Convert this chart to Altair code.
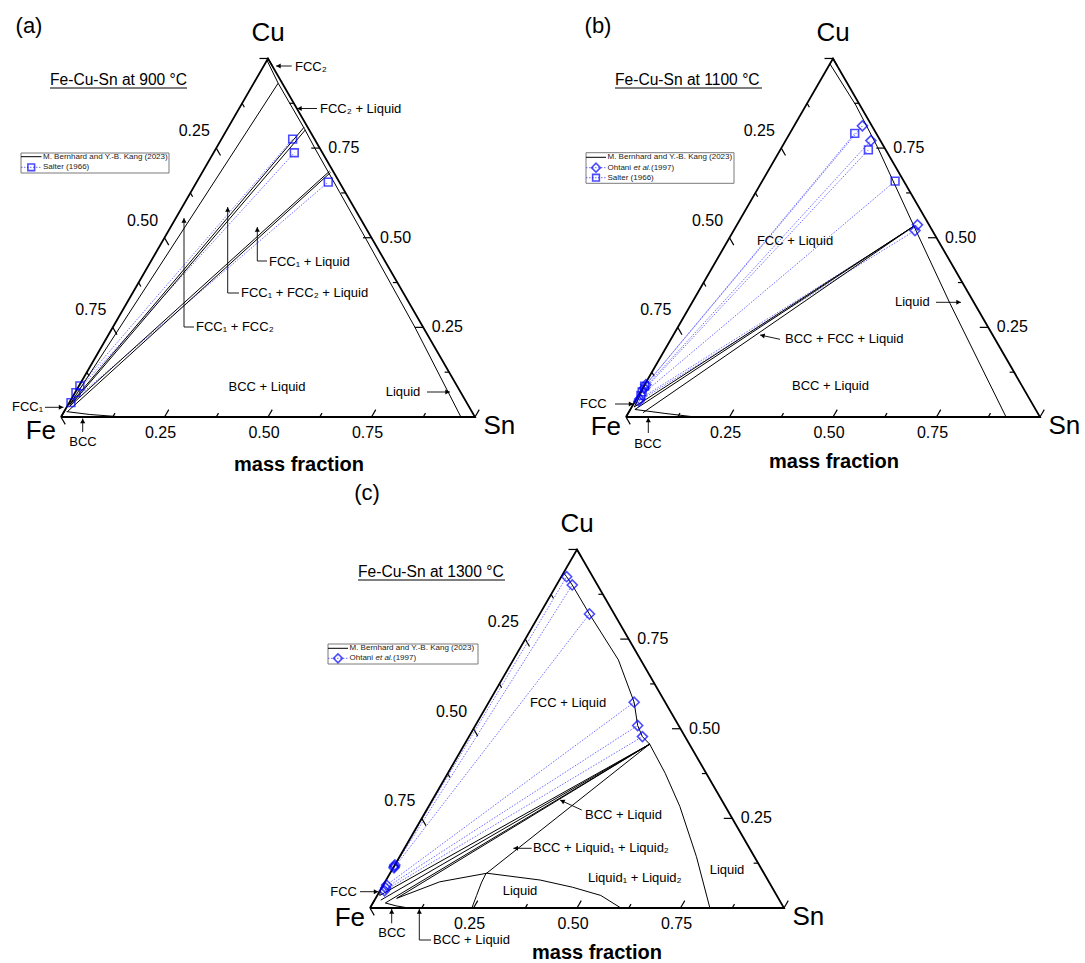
import math
import altair as alt
import pandas as pd

W, H = 1085, 963
SIDE = 414.0                       # triangle side in pixels
TALL = SIDE * math.sqrt(3) / 2     # triangle height in pixels
FONT = "Liberation Sans"
MARK_BLUE = "#0000ff"
TIE_BLUE = "#4848ff"

# Fe corner of each diagram; Sn lies SIDE to the right, Cu on top
ORIGIN = {"a": (61.0, 417.0), "b": (626.0, 417.0), "c": (370.0, 908.0)}

# ---------------- (a) Fe-Cu-Sn at 900 °C (mass fractions Sn, Cu) ----------------
a_liquid_sn = [0.0, 0.059, 0.185, 0.238, 0.485, 0.73, 0.966]
a_liquid_cu = [0.995, 0.931, 0.805, 0.75, 0.50, 0.25, 0.0]
a_fcc1_sn = [0.0, 0.004]
a_fcc1_cu = [0.042, 0.035]
a_bcc_sn = [0.006, 0.066, 0.15]
a_bcc_cu = [0.015, 0.007, 0.0]
a_tri_from_sn = [0.004, 0.004, 0.006, 0.006, 0.008]
a_tri_from_cu = [0.035, 0.035, 0.030, 0.030, 0.015]
a_tri_to_sn = [0.059, 0.183, 0.190, 0.306, 0.310]
a_tri_to_cu = [0.931, 0.808, 0.801, 0.686, 0.682]
a_salter_sol_sn = [0.002, 0.002, 0.004]
a_salter_sol_cu = [0.087, 0.068, 0.040]
a_salter_liq_sn = [0.172, 0.195, 0.318]
a_salter_liq_cu = [0.775, 0.737, 0.655]

# ---------------- (b) Fe-Cu-Sn at 1100 °C ----------------
b_liquid_sn = [0.0, 0.12, 0.23, 0.435, 0.624, 0.918]
b_liquid_cu = [0.985, 0.87, 0.754, 0.526, 0.317, 0.0]
b_fcc_sn = [0.0, 0.004, 0.006]
b_fcc_cu = [0.095, 0.06, 0.028]
b_bcc_sn = [0.011, 0.089, 0.167]
b_bcc_cu = [0.021, 0.010, 0.0]
b_tri_from_sn = [0.006, 0.011, 0.035]
b_tri_from_cu = [0.028, 0.021, 0.012]
b_tri_to_sn = [0.428, 0.428, 0.428]
b_tri_to_cu = [0.531, 0.531, 0.531]
b_ohtani_sol_sn = [0.003, 0.004, 0.008, 0.009]
b_ohtani_sol_cu = [0.090, 0.080, 0.050, 0.044]
b_ohtani_liq_sn = [0.165, 0.206, 0.436, 0.438]
b_ohtani_liq_cu = [0.812, 0.771, 0.536, 0.520]
b_salter_sol_sn = [0.002, 0.004, 0.006]
b_salter_sol_cu = [0.086, 0.070, 0.060]
b_salter_liq_sn = [0.157, 0.213, 0.321]
b_salter_liq_cu = [0.791, 0.745, 0.658]

# ---------------- (c) Fe-Cu-Sn at 1300 °C ----------------
c_liquid_sn = [0.0, 0.013, 0.038, 0.12, 0.254, 0.351, 0.392, 0.419, 0.447, 0.525, 0.607, 0.717, 0.821]
c_liquid_cu = [0.935, 0.924, 0.901, 0.82, 0.692, 0.574, 0.509, 0.478, 0.457, 0.376, 0.283, 0.143, 0.0]
c_dome_sn = [0.051, 0.132, 0.234, 0.372, 0.46, 0.54, 0.606]
c_dome_cu = [0.027, 0.073, 0.097, 0.078, 0.058, 0.035, 0.0]
c_l2_sn = [0.246, 0.240, 0.234, 0.232, 0.447]
c_l2_cu = [0.0, 0.035, 0.07, 0.095, 0.457]
c_bcc_sn = [0.03, 0.06, 0.093]
c_bcc_cu = [0.014, 0.006, 0.0]
c_fcc_sn = [0.0, 0.006]
c_fcc_cu = [0.05, 0.035]
c_tri_from_sn = [0.006, 0.015, 0.03, 0.051]
c_tri_from_cu = [0.035, 0.022, 0.014, 0.027]
c_tri_to_sn = [0.447, 0.447, 0.447, 0.447]
c_tri_to_cu = [0.457, 0.457, 0.457, 0.457]
c_ohtani_sol_sn = [0.0, 0.001, 0.002, 0.008, 0.010, 0.011]
c_ohtani_sol_cu = [0.120, 0.116, 0.112, 0.064, 0.056, 0.048]
c_ohtani_liq_sn = [0.013, 0.038, 0.12, 0.351, 0.392, 0.419]
c_ohtani_liq_cu = [0.924, 0.901, 0.82, 0.574, 0.509, 0.478]

TICK_VALUES = [i / 8 for i in range(9)]
TICK_LABELS = ["0.25", "0.50", "0.75"]

# ------------------------------------------------------------------
# assemble long tables in composition space
counter = [0]
edge_rows, phase_rows, tie_rows, sym_rows = [], [], [], []


def add_path(rows, panel, sn, cu):
    counter[0] += 1
    for k, (s, c) in enumerate(zip(sn, cu)):
        rows.append(dict(panel=panel, line=f"p{counter[0]}", seq=k, sn=s, cu=c))


for p in "abc":
    add_path(edge_rows, p, [0, 1, 0, 0], [0, 0, 1, 0])

add_path(phase_rows, "a", a_liquid_sn, a_liquid_cu)
add_path(phase_rows, "a", a_fcc1_sn, a_fcc1_cu)
add_path(phase_rows, "a", a_bcc_sn, a_bcc_cu)
for s0, c0, s1, c1 in zip(a_tri_from_sn, a_tri_from_cu, a_tri_to_sn, a_tri_to_cu):
    add_path(phase_rows, "a", [s0, s1], [c0, c1])
add_path(phase_rows, "b", b_liquid_sn, b_liquid_cu)
add_path(phase_rows, "b", b_fcc_sn, b_fcc_cu)
add_path(phase_rows, "b", b_bcc_sn, b_bcc_cu)
for s0, c0, s1, c1 in zip(b_tri_from_sn, b_tri_from_cu, b_tri_to_sn, b_tri_to_cu):
    add_path(phase_rows, "b", [s0, s1], [c0, c1])
add_path(phase_rows, "c", c_liquid_sn, c_liquid_cu)
add_path(phase_rows, "c", c_dome_sn, c_dome_cu)
add_path(phase_rows, "c", c_l2_sn, c_l2_cu)
add_path(phase_rows, "c", c_bcc_sn, c_bcc_cu)
add_path(phase_rows, "c", c_fcc_sn, c_fcc_cu)
for s0, c0, s1, c1 in zip(c_tri_from_sn, c_tri_from_cu, c_tri_to_sn, c_tri_to_cu):
    add_path(phase_rows, "c", [s0, s1], [c0, c1])

experiments = [
    ("a", "square", a_salter_sol_sn, a_salter_sol_cu, a_salter_liq_sn, a_salter_liq_cu),
    ("b", "square", b_salter_sol_sn, b_salter_sol_cu, b_salter_liq_sn, b_salter_liq_cu),
    ("b", "diamond", b_ohtani_sol_sn, b_ohtani_sol_cu, b_ohtani_liq_sn, b_ohtani_liq_cu),
    ("c", "diamond", c_ohtani_sol_sn, c_ohtani_sol_cu, c_ohtani_liq_sn, c_ohtani_liq_cu),
]
for p, shape, ss, sc, ls, lc in experiments:
    for s0, c0, s1, c1 in zip(ss, sc, ls, lc):
        add_path(tie_rows, p, [s0, s1], [c0, c1])
        sym_rows.append(dict(panel=p, shape=shape, sn=s0, cu=c0))
        sym_rows.append(dict(panel=p, shape=shape, sn=s1, cu=c1))

tick_rows, tlabel_rows, vlabel_rows = [], [], []
for p in "abc":
    for t in TICK_VALUES:
        major = abs(t * 4 - round(t * 4)) < 1e-9
        d = (8.5 if major else 4.5) / SIDE
        tick_rows.append(dict(panel=p, sn=t, cu=0.0, sn2=t, cu2=d))              # Sn axis
        tick_rows.append(dict(panel=p, sn=1 - t, cu=t, sn2=1 - t - d, cu2=t))    # Cu axis
        tick_rows.append(dict(panel=p, sn=0.0, cu=1 - t, sn2=d, cu2=1 - t - d))  # Fe axis
    for lab in TICK_LABELS:
        v = float(lab)
        tlabel_rows.append(dict(panel=p, sn=v, cu=0.0, dx=-4, dy=16, label=lab, align="center"))
        tlabel_rows.append(dict(panel=p, sn=1 - v, cu=v, dx=8.5, dy=0, label=lab, align="left"))
        tlabel_rows.append(dict(panel=p, sn=0.0, cu=1 - v, dx=-22, dy=-17, label=lab, align="center"))
    fe_dy = 14 if p == "a" else 10
    vlabel_rows.append(dict(panel=p, sn=0.0, cu=1.0, dx=0, dy=-25.5, label="Cu", align="center"))
    vlabel_rows.append(dict(panel=p, sn=0.0, cu=0.0, dx=-5, dy=fe_dy, label="Fe", align="right"))
    vlabel_rows.append(dict(panel=p, sn=1.0, cu=0.0, dx=8.5, dy=9, label="Sn", align="left"))


def frame(rows):
    df = pd.DataFrame(rows)
    df["ox"] = df["panel"].map(lambda q: ORIGIN[q][0])
    df["oy"] = df["panel"].map(lambda q: ORIGIN[q][1])
    for col in ("dx", "dy"):
        if col not in df:
            df[col] = 0.0
    return df


PX = f"datum.ox + {SIDE} * (datum.sn + datum.cu / 2) + datum.dx"
PY = f"datum.oy - {TALL} * datum.cu + datum.dy"
PX2 = f"datum.ox + {SIDE} * (datum.sn2 + datum.cu2 / 2)"
PY2 = f"datum.oy - {TALL} * datum.cu2"

X = alt.X("px:Q", scale=alt.Scale(domain=[0, W], nice=False, zero=False), axis=None)
Y = alt.Y("py:Q", scale=alt.Scale(domain=[H, 0], nice=False, zero=False), axis=None)


def ternary(rows):
    return alt.Chart(frame(rows)).transform_calculate(px=PX, py=PY)


layers = []

# ticks and frame
layers.append(
    alt.Chart(frame(tick_rows))
    .transform_calculate(px=PX, py=PY, px2=PX2, py2=PY2)
    .mark_rule(color="black", strokeWidth=1.2)
    .encode(x=X, y=Y, x2="px2:Q", y2="py2:Q")
)
layers.append(
    ternary(tie_rows)
    .mark_line(color=TIE_BLUE, strokeWidth=0.8, strokeDash=[1.5, 1.5])
    .encode(x=X, y=Y, detail="line:N", order="seq:Q")
)
layers.append(
    ternary(phase_rows)
    .mark_line(color="black", strokeWidth=1.0)
    .encode(x=X, y=Y, detail="line:N", order="seq:Q")
)
layers.append(
    ternary(edge_rows)
    .mark_line(color="black", strokeWidth=1.8)
    .encode(x=X, y=Y, detail="line:N", order="seq:Q")
)
sq = [r for r in sym_rows if r["shape"] == "square"]
dm = [r for r in sym_rows if r["shape"] == "diamond"]
layers.append(
    ternary(sq).mark_point(shape="square", size=60, filled=False, color=MARK_BLUE, strokeWidth=1.6)
    .encode(x=X, y=Y)
)
layers.append(
    ternary(dm).mark_point(shape="diamond", size=100, filled=False, color=MARK_BLUE, strokeWidth=1.6)
    .encode(x=X, y=Y)
)

# axis numbers and corner names
for align in ("left", "center", "right"):
    sub = [r for r in tlabel_rows if r["align"] == align]
    if sub:
        layers.append(
            ternary(sub).mark_text(font=FONT, fontSize=16, align=align, baseline="middle", color="black")
            .encode(x=X, y=Y, text="label:N")
        )
    sub = [r for r in vlabel_rows if r["align"] == align]
    if sub:
        layers.append(
            ternary(sub).mark_text(font=FONT, fontSize=26, align=align, baseline="middle", color="black")
            .encode(x=X, y=Y, text="label:N")
        )

# ---------------- annotations (page pixels) ----------------
notes = [
    # text, x, y, align, size, weight
    ("(a)", 29, 26, "center", 22, "normal"),
    ("(b)", 598, 26, "center", 22, "normal"),
    ("(c)", 367, 493, "center", 22, "normal"),
    ("Fe-Cu-Sn at 900 °C", 50, 80, "left", 15.6, "normal"),
    ("Fe-Cu-Sn at 1100 °C", 615, 80, "left", 15.6, "normal"),
    ("Fe-Cu-Sn at 1300 °C", 358, 572, "left", 15.6, "normal"),
    ("mass fraction", 299, 465, "center", 20, "bold"),
    ("mass fraction", 834, 462, "center", 20, "bold"),
    ("mass fraction", 597, 953, "center", 20, "bold"),
    # (a)
    ("FCC₂", 295, 67, "left", 13, "normal"),
    ("FCC₂ + Liquid", 320, 109, "left", 13, "normal"),
    ("FCC₁ + Liquid", 269, 262, "left", 13, "normal"),
    ("FCC₁ + FCC₂ + Liquid", 241, 293, "left", 13, "normal"),
    ("FCC₁ + FCC₂", 196, 327, "left", 13, "normal"),
    ("BCC + Liquid", 267, 387, "center", 13, "normal"),
    ("Liquid", 403, 392, "center", 13, "normal"),
    ("FCC₁", 12, 407, "left", 13, "normal"),
    ("BCC", 83, 442, "center", 13, "normal"),
    # (b)
    ("FCC + Liquid", 795, 241, "center", 13, "normal"),
    ("Liquid", 895, 302, "left", 13, "normal"),
    ("BCC + FCC + Liquid", 785, 339, "left", 13, "normal"),
    ("BCC + Liquid", 792, 386, "left", 13, "normal"),
    ("FCC", 580, 404, "left", 13, "normal"),
    ("BCC", 648, 444, "center", 13, "normal"),
    # (c)
    ("FCC + Liquid", 568, 703, "center", 13, "normal"),
    ("BCC + Liquid", 585, 815, "left", 13, "normal"),
    ("BCC + Liquid₁ + Liquid₂", 533, 848, "left", 13, "normal"),
    ("Liquid₁ + Liquid₂", 588, 878, "left", 13, "normal"),
    ("Liquid", 520, 891, "center", 13, "normal"),
    ("Liquid", 727, 870, "center", 13, "normal"),
    ("FCC", 357, 892, "right", 13, "normal"),
    ("BCC", 392, 933, "center", 13, "normal"),
    ("BCC + Liquid", 433, 940, "left", 13, "normal"),
]
note_df = pd.DataFrame(notes, columns=["label", "px", "py", "align", "fs", "weight"])
for (align, weight), sub in note_df.groupby(["align", "weight"]):
    layers.append(
        alt.Chart(sub).mark_text(font=FONT, align=align, baseline="middle", fontWeight=weight, color="black")
        .encode(x=X, y=Y, text="label:N", size=alt.Size("fs:Q", scale=None))
    )

# underlines of the panel titles
underline_df = pd.DataFrame(dict(px=[50, 615, 358], px2=[187, 762, 505], py=[88, 88, 580]))
layers.append(
    alt.Chart(underline_df).mark_rule(color="black", strokeWidth=1).encode(x=X, x2="px2:Q", y=Y)
)

# arrows: polylines ending at the arrow tip
arrows = [
    [(291.7, 66), (276, 66)],
    [(317, 108.5), (297, 108.5)],
    [(267, 261), (257.3, 261), (257.3, 227)],
    [(239, 293), (227.7, 293), (227.7, 207)],
    [(194, 327), (184, 327), (184, 218)],
    [(427, 392), (450, 392)],
    [(45, 407.3), (63.5, 407.3)],
    [(82.7, 432), (82.7, 418.5)],
    [(936, 302.3), (961, 302.3)],
    [(780, 339.3), (760, 335)],
    [(615, 404), (633.5, 404)],
    [(648.3, 433), (648.3, 417.5)],
    [(581.7, 810), (560, 800)],
    [(531.7, 848.3), (513.3, 848.3)],
    [(360, 891.7), (378.5, 891.7)],
    [(391.7, 923.3), (391.7, 909)],
    [(431, 940), (419.3, 940), (419.3, 909)],
]
arrow_rows, head_rows = [], []
for i, pts in enumerate(arrows):
    for k, (x, y) in enumerate(pts):
        arrow_rows.append(dict(arrow=i, seq=k, px=x, py=y))
    (x0, y0), (x1, y1) = pts[-2], pts[-1]
    L = math.hypot(x1 - x0, y1 - y0)
    ux, uy = (x1 - x0) / L, (y1 - y0) / L
    ang = math.degrees(math.atan2(ux, -uy)) % 360
    head_rows.append(dict(px=x1 - 2.5 * ux, py=y1 - 2.5 * uy, ang=ang))
layers.append(
    alt.Chart(pd.DataFrame(arrow_rows)).mark_line(color="black", strokeWidth=0.9)
    .encode(x=X, y=Y, detail="arrow:N", order="seq:Q")
)
layers.append(
    alt.Chart(pd.DataFrame(head_rows)).mark_point(shape="triangle-up", filled=True, size=26, color="black", opacity=1)
    .encode(x=X, y=Y, angle=alt.Angle("ang:Q", scale=None))
)

# ---------------- legends ----------------
legend_boxes = pd.DataFrame(dict(px=[21, 586, 328], px2=[169, 734, 478], py=[153, 152.7, 644], py2=[173, 183.3, 664]))
layers.append(
    alt.Chart(legend_boxes).mark_rect(fill="white", stroke="#7a7a7a", strokeWidth=1)
    .encode(x=X, x2="px2:Q", y=Y, y2="py2:Q")
)
model_label = "M. Bernhard and Y.-B. Kang (2023)"
legend_rows = [
    # x of sample start, sample end, row y, kind
    (21, 41.5, 156.7, "model"), (21, 41.5, 167.3, "square"),
    (586, 606, 157.3, "model"), (586, 606, 167.7, "diamond"), (586, 606, 177.7, "square"),
    (328, 348, 648.3, "model"), (328, 348, 658.3, "diamond"),
]
leg_line_rows, leg_sym_rows, leg_text_rows, leg_italic_rows = [], [], [], []
for j, (x0, x1, y, kind) in enumerate(legend_rows):
    leg_line_rows.append(dict(row=j, kind=kind, seq=0, px=x0, py=y))
    leg_line_rows.append(dict(row=j, kind=kind, seq=1, px=x1, py=y))
    tx = x1 + 1.5
    if kind == "model":
        leg_text_rows.append(dict(px=tx, py=y, label=model_label))
    elif kind == "square":
        leg_sym_rows.append(dict(px=(x0 + x1) / 2, py=y, shape="square"))
        leg_text_rows.append(dict(px=tx, py=y, label="Salter (1966)"))
    else:
        leg_sym_rows.append(dict(px=(x0 + x1) / 2, py=y, shape="diamond"))
        leg_text_rows.append(dict(px=tx, py=y, label="Ohtani "))
        leg_italic_rows.append(dict(px=tx + 26, py=y, label="et al."))
        leg_text_rows.append(dict(px=tx + 43.5, py=y, label=" (1997)"))
leg_lines = pd.DataFrame(leg_line_rows)
layers.append(
    alt.Chart(leg_lines[leg_lines.kind == "model"]).mark_line(color="black", strokeWidth=1)
    .encode(x=X, y=Y, detail="row:N", order="seq:Q")
)
layers.append(
    alt.Chart(leg_lines[leg_lines.kind != "model"]).mark_line(color=TIE_BLUE, strokeWidth=0.8, strokeDash=[1.5, 1.5])
    .encode(x=X, y=Y, detail="row:N", order="seq:Q")
)
leg_syms = pd.DataFrame(leg_sym_rows)
layers.append(
    alt.Chart(leg_syms[leg_syms["shape"] == "square"]).mark_point(shape="square", size=45, filled=False, color=MARK_BLUE, strokeWidth=1.6)
    .encode(x=X, y=Y)
)
layers.append(
    alt.Chart(leg_syms[leg_syms["shape"] == "diamond"]).mark_point(shape="diamond", size=80, filled=False, color=MARK_BLUE, strokeWidth=1.6)
    .encode(x=X, y=Y)
)
layers.append(
    alt.Chart(pd.DataFrame(leg_text_rows)).mark_text(font=FONT, fontSize=8, align="left", baseline="middle", color="#222222")
    .encode(x=X, y=Y, text="label:N")
)
layers.append(
    alt.Chart(pd.DataFrame(leg_italic_rows)).mark_text(font=FONT, fontSize=8, fontStyle="italic", align="left", baseline="middle", color="#222222")
    .encode(x=X, y=Y, text="label:N")
)

chart = (
    alt.layer(*layers)
    .properties(width=W, height=H, padding=0, autosize="none", background="white")
    .configure_view(stroke=None)
)
chart.save("out.html", embed_options={"renderer": "svg", "actions": False})
